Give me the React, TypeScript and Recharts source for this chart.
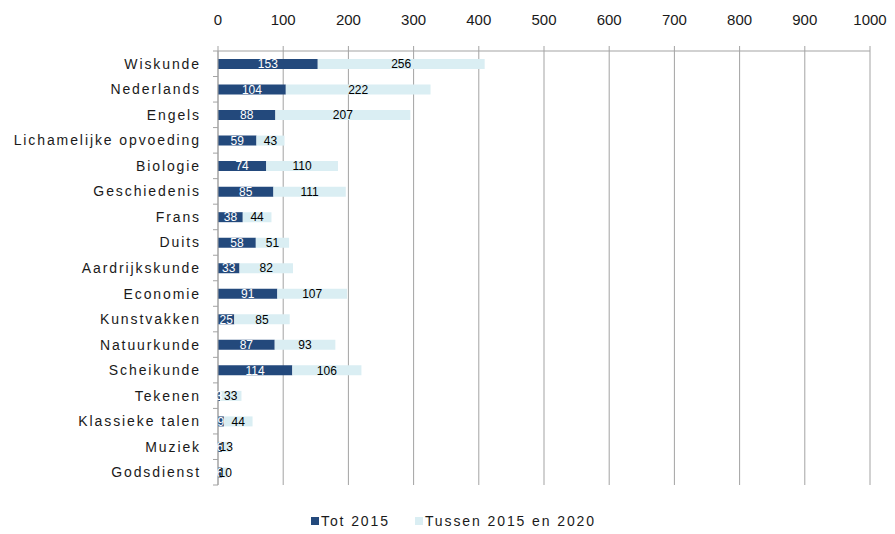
import React from 'react'
import { BarChart, Bar, XAxis, YAxis, CartesianGrid, Legend, LabelList } from 'recharts'

// Docenten per vak: pensioen tot 2015 en tussen 2015 en 2020
const SUBJECTS = [
  'Wiskunde', 'Nederlands', 'Engels', 'Lichamelijke opvoeding', 'Biologie',
  'Geschiedenis', 'Frans', 'Duits', 'Aardrijkskunde', 'Economie', 'Kunstvakken',
  'Natuurkunde', 'Scheikunde', 'Tekenen', 'Klassieke talen', 'Muziek', 'Godsdienst',
]
const TOT_2015 = [153, 104, 88, 59, 74, 85, 38, 58, 33, 91, 25, 87, 114, 3, 9, 6, 6]
const TUSSEN_2015_2020 = [256, 222, 207, 43, 110, 111, 44, 51, 82, 107, 85, 93, 106, 33, 44, 13, 10]
const X_TICKS = [0, 100, 200, 300, 400, 500, 600, 700, 800, 900, 1000]

const DARK = '#23497c'
const LIGHT = '#daeef3'
const GRID = '#a3a3a3'
const INK = '#1a1a1a'
const FONT = '"Liberation Sans", Arial, sans-serif'

const W = 895
const H = 534
const Y_AXIS_W = 218
const X_AXIS_H = 51
const MARGIN = { top: 0, right: 25, bottom: 27, left: 0 }
const LEGEND_H = 22
const PLOT_H = H - X_AXIS_H - MARGIN.bottom - LEGEND_H

const data = SUBJECTS.map((name, i) => ({ name, tot: TOT_2015[i], tussen: TUSSEN_2015_2020[i] }))

const SERIES = [
  { key: 'tot', name: 'Tot 2015', color: DARK },
  { key: 'tussen', name: 'Tussen 2015 en 2020', color: LIGHT },
]

// category label + Excel-style tick marks between the rows
function SubjectTick({ y, payload, index }: any) {
  const band = PLOT_H / SUBJECTS.length
  const ax = Y_AXIS_W
  return (
    <g>
      <text x={ax - 17} y={y} textAnchor="end" dominantBaseline="central"
        style={{ fontSize: 14, letterSpacing: 1.9, fill: INK, fontFamily: FONT }}>
        {payload.value}
      </text>
      {index === 0 && <line x1={ax - 5} x2={ax} y1={y - band / 2} y2={y - band / 2} stroke={GRID} />}
      <line x1={ax - 5} x2={ax} y1={y + band / 2} y2={y + band / 2} stroke={GRID} />
    </g>
  )
}

function LegendBox() {
  return (
    <div style={{
      display: 'flex', justifyContent: 'center', alignItems: 'center', gap: 25,
      height: LEGEND_H, paddingLeft: 12, fontSize: 14, letterSpacing: 1.9, color: INK, fontFamily: FONT,
    }}>
      {SERIES.map(s => (
        <span key={s.key} style={{ display: 'flex', alignItems: 'center' }}>
          <span style={{ width: 8, height: 8, background: s.color, marginRight: 2, display: 'inline-block' }} />
          {s.name}
        </span>
      ))}
    </div>
  )
}

export default function App() {
  return (
    <div style={{ width: W, height: H, background: '#fff', fontFamily: FONT }}>
      <style>{'body{margin:0}'}</style>
      <BarChart width={W} height={H} data={data} layout="vertical" margin={MARGIN} barSize={10}>
        <CartesianGrid horizontal={false} stroke={GRID} />
        <XAxis type="number" orientation="top" domain={[0, 1000]} ticks={X_TICKS} interval={0}
          height={X_AXIS_H} tickSize={5} tickMargin={21} stroke={GRID}
          tick={{ fontSize: 15, fill: INK, fontFamily: FONT }} />
        <YAxis type="category" dataKey="name" width={Y_AXIS_W} interval={0} tickLine={false}
          stroke={GRID} tick={<SubjectTick />} />
        <Legend verticalAlign="bottom" content={<LegendBox />}
          wrapperStyle={{ bottom: 2, left: 0, width: W }} />
        <Bar dataKey="tot" name="Tot 2015" stackId="a" fill={DARK} isAnimationActive={false}>
          <LabelList dataKey="tot" position="center" style={{ fontSize: 12, fill: '#fff', fontFamily: FONT }} />
        </Bar>
        <Bar dataKey="tussen" name="Tussen 2015 en 2020" stackId="a" fill={LIGHT} isAnimationActive={false}>
          <LabelList dataKey="tussen" position="center" style={{ fontSize: 12, fill: '#000', fontFamily: FONT }} />
        </Bar>
      </BarChart>
    </div>
  )
}
